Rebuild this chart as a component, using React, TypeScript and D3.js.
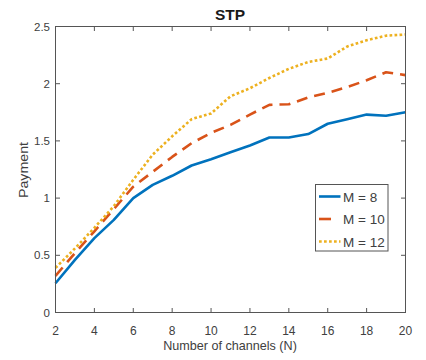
import React from "react";
import * as d3 from "d3";

const channels = [2, 3, 4, 5, 6, 7, 8, 9, 10, 11, 12, 13, 14, 15, 16, 17, 18, 19, 20];
const m8 = [0.256, 0.46, 0.65, 0.81, 1.0, 1.116, 1.195, 1.285, 1.34, 1.4, 1.46, 1.53, 1.53, 1.56, 1.65, 1.69, 1.73, 1.72, 1.75];
const m10 = [0.32, 0.52, 0.71, 0.905, 1.1, 1.23, 1.36, 1.48, 1.57, 1.64, 1.73, 1.815, 1.82, 1.88, 1.92, 1.97, 2.03, 2.1, 2.075];
const m12 = [0.39, 0.56, 0.74, 0.93, 1.16, 1.38, 1.54, 1.69, 1.74, 1.89, 1.96, 2.05, 2.13, 2.19, 2.22, 2.325, 2.38, 2.42, 2.43];
const seriesNames = ["M = 8", "M = 10", "M = 12"];
const xTicks = [2, 4, 6, 8, 10, 12, 14, 16, 18, 20];
const yTicks = [0, 0.5, 1, 1.5, 2, 2.5];

const W = 426;
const H = 360;
const left = 55.5;
const right = 405.5;
const top = 26.5;
const bottom = 312.5;
const font = "'Liberation Sans', Arial, Helvetica, sans-serif";
const axisColor = "#555555";
const textColor = "#404040";

const colors = ["#0072BD", "#D95319", "#EDB120"];
const dashes = ["none", "11,7", "2.7,2.3"];

export default function App() {
  const x = d3.scaleLinear().domain([2, 20]).range([left, right]);
  const y = d3.scaleLinear().domain([0, 2.5]).range([bottom, top]);
  const line = d3
    .line<number>()
    .x((_, i) => x(channels[i]))
    .y((d) => y(d));
  const all = [m8, m10, m12];
  const tick = 4.5;

  const legX = 315.5;
  const legY = 184.5;
  const legW = 72.5;
  const legH = 66.5;
  const rowY = [196.5, 219, 241.5];

  return (
    <svg width={W} height={H} style={{ position: "absolute", left: 0, top: 0, background: "#fff" }}>
      <rect x={0} y={0} width={W} height={H} fill="#fff" />
      {all.map((s, i) => (
        <path
          key={i}
          d={line(s) || ""}
          fill="none"
          stroke={colors[i]}
          strokeWidth={2.6}
          strokeDasharray={dashes[i]}
          strokeLinejoin="round"
        />
      ))}
      <rect x={left} y={top} width={right - left} height={bottom - top} fill="none" stroke={axisColor} strokeWidth={1} />
      {xTicks.map((t) => (
        <g key={"x" + t}>
          <line x1={x(t)} x2={x(t)} y1={bottom} y2={bottom - tick} stroke={axisColor} strokeWidth={1} />
          <line x1={x(t)} x2={x(t)} y1={top} y2={top + tick} stroke={axisColor} strokeWidth={1} />
          <text x={x(t)} y={335} textAnchor="middle" fontFamily={font} fontSize={12} fill={textColor}>
            {t}
          </text>
        </g>
      ))}
      {yTicks.map((t) => (
        <g key={"y" + t}>
          <line x1={left} x2={left + tick} y1={y(t)} y2={y(t)} stroke={axisColor} strokeWidth={1} />
          <line x1={right} x2={right - tick} y1={y(t)} y2={y(t)} stroke={axisColor} strokeWidth={1} />
          <text x={50} y={y(t) + 4} textAnchor="end" fontFamily={font} fontSize={11.5} fill={textColor}>
            {t}
          </text>
        </g>
      ))}
      <text x={230} y={19.5} textAnchor="middle" fontFamily={font} fontSize={15.5} fontWeight="bold" fill="#1a1a1a">
        STP
      </text>
      <text x={230} y={350} textAnchor="middle" fontFamily={font} fontSize={12.6} fill={textColor}>
        Number of channels (N)
      </text>
      <text
        transform={`translate(28,170) rotate(-90)`}
        textAnchor="middle"
        fontFamily={font}
        fontSize={12.5}
        fill={textColor}
        textLength={56}
        lengthAdjust="spacingAndGlyphs"
      >
        Payment
      </text>
      <rect x={legX} y={legY} width={legW} height={legH} fill="#fff" stroke={axisColor} strokeWidth={1} />
      {seriesNames.map((n, i) => (
        <g key={n}>
          <line
            x1={319}
            x2={i === 1 ? 331 : 340.5}
            y1={rowY[i]}
            y2={rowY[i]}
            stroke={colors[i]}
            strokeWidth={2.6}
            strokeDasharray={i === 1 ? "none" : dashes[i]}
          />
          <text x={343} y={rowY[i] + 5} fontFamily={font} fontSize={13.5} fill={textColor}>
            {n}
          </text>
        </g>
      ))}
    </svg>
  );
}
